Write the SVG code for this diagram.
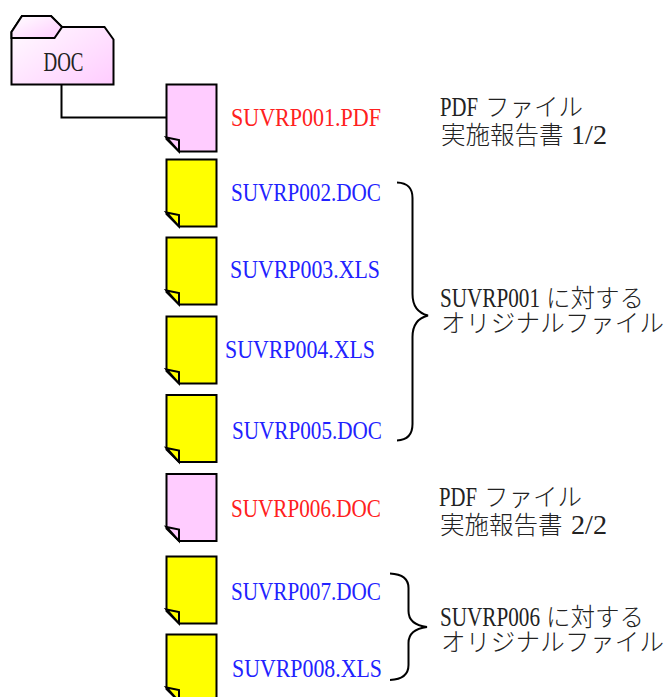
<svg xmlns="http://www.w3.org/2000/svg" width="664" height="697" viewBox="0 0 664 697">
<style>
text{font-family:"Liberation Serif","Noto Sans CJK JP",serif;font-size:26px}
.l{font-size:27px;fill:#222}
.j{font-family:"Noto Sans CJK JP",sans-serif;font-size:24.500px;font-weight:300;fill:#222}
.r{fill:#ff2020}.b{fill:#2222ff}
.s{stroke:#000;stroke-width:2;stroke-linejoin:miter}
.y{fill:#ffff00}.p{fill:#ffccff}
.c{fill:none;stroke:#000;stroke-width:2}
</style>
<defs>
<linearGradient id="g" x1="0" y1="0" x2="1" y2="1"><stop offset="0" stop-color="#fff"/><stop offset="1" stop-color="#ffccff"/></linearGradient>
<path id="d" d="M0 0H50V67H12.500L0 54.500Z"/>
<path id="f" d="M0 53L12.500 55.500V67Z"/>
</defs>
<g id="connectors">
<path class="c" d="M61.500 84.500V117.500H166.500"/>
<path id="brace1" class="c" d="M397 182.500C408 183 412.500 188 412.500 198V294C412.500 306 418 313 428 315.500C418 318 412.500 325 412.500 337V424C412.500 434 408 440 397 440.500"/>
<path id="brace2" class="c" d="M390 573.500C401 574 408.500 578 408.500 588V611C408.500 621 415 625.500 427 627C415 628.500 408.500 633 408.500 643V665C408.500 675 401 679.500 390 680"/>
</g>
<g id="folder">
<path class="s" fill="url(#g)" d="M11.500 84.500V32L22 16H51L62 27H104.500L113.500 39.500V84.500Z"/>
<path class="s" fill="url(#g)" d="M11.500 38H54.500L62 27L51 16H22L11.500 32Z"/>
<text class="l" x="43.500" y="70.500" textLength="40" lengthAdjust="spacingAndGlyphs">DOC</text>
</g>
<g id="file1"><use href="#d" x="166.500" y="84.500" class="s p"/><use href="#f" x="166.500" y="84.500" class="s p"/><text class="r" x="231" y="126" textLength="150" lengthAdjust="spacingAndGlyphs">SUVRP001.PDF</text></g>
<g id="file2"><use href="#d" x="166.500" y="159.500" class="s y"/><use href="#f" x="166.500" y="159.500" class="s y"/><text class="b" x="231" y="201" textLength="150" lengthAdjust="spacingAndGlyphs">SUVRP002.DOC</text></g>
<g id="file3"><use href="#d" x="166.500" y="237.500" class="s y"/><use href="#f" x="166.500" y="237.500" class="s y"/><text class="b" x="230" y="278" textLength="150" lengthAdjust="spacingAndGlyphs">SUVRP003.XLS</text></g>
<g id="file4"><use href="#d" x="166.500" y="316.500" class="s y"/><use href="#f" x="166.500" y="316.500" class="s y"/><text class="b" x="225" y="358" textLength="150" lengthAdjust="spacingAndGlyphs">SUVRP004.XLS</text></g>
<g id="file5"><use href="#d" x="166.500" y="395" class="s y"/><use href="#f" x="166.500" y="395" class="s y"/><text class="b" x="232" y="439" textLength="150" lengthAdjust="spacingAndGlyphs">SUVRP005.DOC</text></g>
<g id="file6"><use href="#d" x="166.500" y="474" class="s p"/><use href="#f" x="166.500" y="474" class="s p"/><text class="r" x="231" y="517" textLength="150" lengthAdjust="spacingAndGlyphs">SUVRP006.DOC</text></g>
<g id="file7"><use href="#d" x="166.500" y="556.500" class="s y"/><use href="#f" x="166.500" y="556.500" class="s y"/><text class="b" x="231" y="600" textLength="150" lengthAdjust="spacingAndGlyphs">SUVRP007.DOC</text></g>
<g id="file8"><use href="#d" x="166.500" y="634.500" class="s y"/><use href="#f" x="166.500" y="634.500" class="s y"/><text class="b" x="232" y="677" textLength="150" lengthAdjust="spacingAndGlyphs">SUVRP008.XLS</text></g>
<g id="notes">
<text class="l" x="440" y="116"><tspan textLength="38" lengthAdjust="spacingAndGlyphs">PDF</tspan><tspan class="j" x="485">ファイル</tspan></text>
<text class="l" x="441" y="144"><tspan class="j">実施報告書</tspan><tspan x="571" textLength="36" lengthAdjust="spacingAndGlyphs">1/2</tspan></text>
<text class="l" x="440" y="307"><tspan textLength="100" lengthAdjust="spacingAndGlyphs">SUVRP001</tspan><tspan class="j" x="546">に対する</tspan></text>
<text class="j" x="441" y="332" textLength="223">オリジナルファイル</text>
<text class="l" x="439" y="506"><tspan textLength="38" lengthAdjust="spacingAndGlyphs">PDF</tspan><tspan class="j" x="484">ファイル</tspan></text>
<text class="l" x="440" y="534"><tspan class="j">実施報告書</tspan><tspan x="571" textLength="36" lengthAdjust="spacingAndGlyphs">2/2</tspan></text>
<text class="l" x="440" y="626"><tspan textLength="100" lengthAdjust="spacingAndGlyphs">SUVRP006</tspan><tspan class="j" x="546">に対する</tspan></text>
<text class="j" x="441" y="651" textLength="223">オリジナルファイル</text>
</g>
</svg>
